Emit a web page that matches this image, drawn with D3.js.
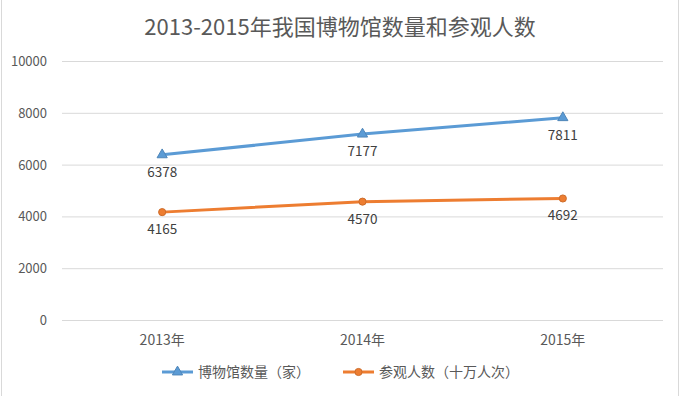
<!DOCTYPE html>
<html>
<head>
<meta charset="utf-8">
<script src="https://cdn.jsdelivr.net/npm/d3@7"></script>
<style>
  body { margin: 0; background: #fff; }
  svg text { font-family: "Noto Sans CJK SC", "Liberation Sans", sans-serif; }
</style>
</head>
<body>
<div id="chart"></div>
<script>
const years = ['2013年', '2014年', '2015年'];
const museums = [6378, 7177, 7811];
const visitors = [4165, 4570, 4692];
const yTicks = [0, 2000, 4000, 6000, 8000, 10000];
const seriesNames = ['博物馆数量（家）', '参观人数（十万人次）'];

var width = 680,
    height = 396;

var svg = d3.select("#chart").append("svg")
    .attr("width", width)
    .attr("height", height);

// chart border
svg.append("rect")
    .attr("x", 1.5).attr("y", -2)
    .attr("width", width - 3).attr("height", height + 4)
    .attr("fill", "none")
    .attr("stroke", "#d9d9d9");

svg.append("text")
    .attr("x", 340).attr("y", 35)
    .attr("text-anchor", "middle")
    .attr("font-size", 22)
    .attr("fill", "#595959")
    .text("2013-2015年我国博物馆数量和参观人数");

var x = d3.scaleBand().domain(years).range([62, 663]);
var y = d3.scaleLinear().domain([0, 10000]).range([320, 61]);

// gridlines
svg.append("g").selectAll("line")
    .data(yTicks)
    .enter().append("line")
    .attr("x1", 62).attr("x2", 663)
    .attr("y1", d => y(d) + 0.5).attr("y2", d => y(d) + 0.5)
    .attr("stroke", "#d9d9d9");

// y axis labels
svg.append("g").selectAll("text")
    .data(yTicks)
    .enter().append("text")
    .attr("x", 47).attr("y", d => y(d) + 5)
    .attr("text-anchor", "end")
    .attr("font-size", 13)
    .attr("fill", "#595959")
    .text(d => d);

// x axis labels
svg.append("g").selectAll("text")
    .data(years)
    .enter().append("text")
    .attr("x", d => x(d) + x.bandwidth() / 2).attr("y", 345)
    .attr("text-anchor", "middle")
    .attr("font-size", 14)
    .attr("fill", "#595959")
    .text(d => d);

var cx = (d, i) => x(years[i]) + x.bandwidth() / 2;
var line = d3.line().x(cx).y(d => y(d));

var series = [
    { name: seriesNames[0], values: museums, color: '#5b9bd5', symbol: d3.symbolTriangle },
    { name: seriesNames[1], values: visitors, color: '#ed7d31', symbol: d3.symbolCircle }
];

series.forEach(function (s) {
    svg.append("path")
        .attr("d", line(s.values))
        .attr("fill", "none")
        .attr("stroke", s.color)
        .attr("stroke-width", 3)
        .attr("stroke-linecap", "round");

    svg.append("g").selectAll("path")
        .data(s.values)
        .enter().append("path")
        .attr("transform", (d, i) => "translate(" + cx(d, i) + "," + y(d) + ")")
        .attr("d", d3.symbol().type(s.symbol).size(s.symbol === d3.symbolCircle ? 40 : 45))
        .attr("fill", s.color)
        .attr("stroke", d3.color(s.color).darker(0.4))
        .attr("stroke-width", 1);

    svg.append("g").selectAll("text")
        .data(s.values)
        .enter().append("text")
        .attr("x", cx).attr("y", d => y(d) + 22)
        .attr("text-anchor", "middle")
        .attr("font-size", 13.5)
        .attr("fill", "#404040")
        .text(d => d);
});

// legend
var legendX = [162, 343];
series.forEach(function (s, i) {
    var g = svg.append("g").attr("transform", "translate(" + legendX[i] + ",372)");
    g.append("line")
        .attr("x1", 0).attr("x2", 31)
        .attr("stroke", s.color).attr("stroke-width", 3);
    g.append("path")
        .attr("transform", "translate(15.5,0)")
        .attr("d", d3.symbol().type(s.symbol).size(s.symbol === d3.symbolCircle ? 40 : 45))
        .attr("fill", s.color)
        .attr("stroke", d3.color(s.color).darker(0.4));
    g.append("text")
        .attr("x", 36).attr("y", 5)
        .attr("font-size", 14)
        .attr("fill", "#595959")
        .text(s.name);
});
</script>
</body>
</html>
